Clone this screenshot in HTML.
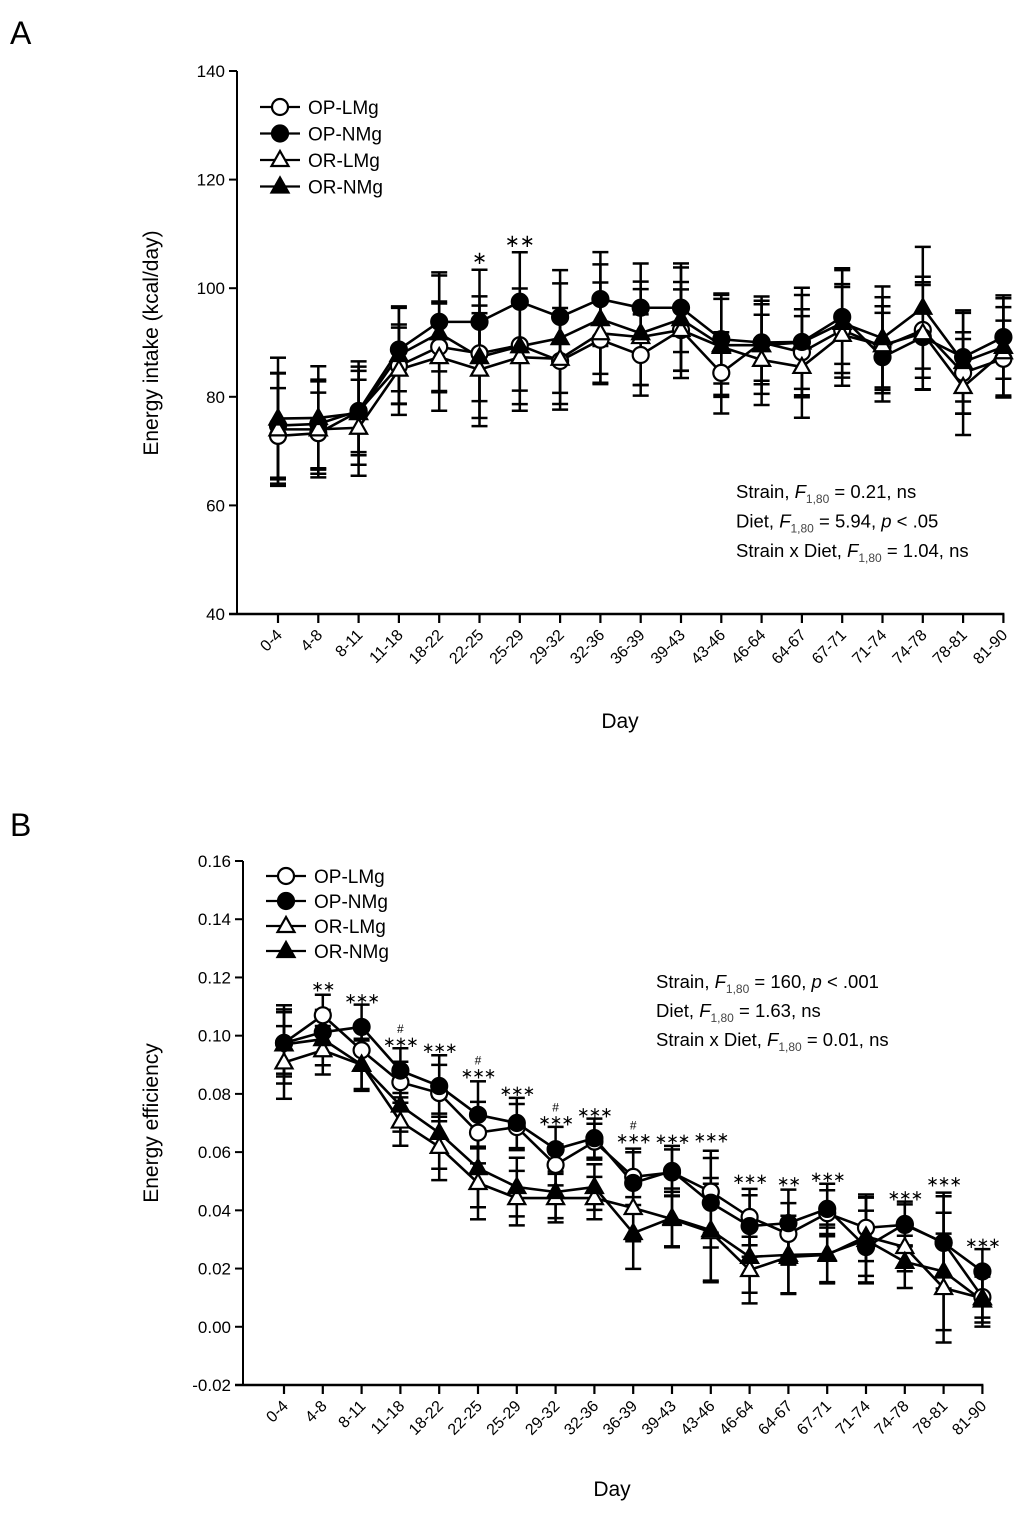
<!DOCTYPE html>
<html><head><meta charset="utf-8">
<style>
html,body{margin:0;padding:0;background:#fff;}
svg{display:block;font-family:"Liberation Sans",Arial,sans-serif;}
</style></head>
<body>
<svg id="fig" width="1024" height="1513" viewBox="0 0 1024 1513" xmlns="http://www.w3.org/2000/svg">
<text x="10" y="44" font-size="32">A</text>
<text x="10" y="836" font-size="32">B</text>
<g id="pa"></g>
<g id="pb"></g>
</svg>
<script>
const categories=["0-4","4-8","8-11","11-18","18-22","22-25","25-29","29-32","32-36","36-39","39-43","43-46","46-64","64-67","67-71","71-74","74-78","78-81","81-90"];
const seriesNames=["OP-LMg","OP-NMg","OR-LMg","OR-NMg"];
// Panel A: energy intake (kcal/day)
const aOPL=[72.8,73.3,77.3,85.7,89.2,88,89.5,86.6,90.5,87.7,92.3,84.4,90,88.2,92.3,89.2,92.3,84.4,87];
const aOPN=[74.7,75,77.4,88.7,93.8,93.8,97.5,94.7,98,96.4,96.4,90.6,90,90.1,94.7,87.3,91,87.3,91];
const aORL=[74,74,74.3,85,87.3,85,87.3,87,91.7,91,92.3,89.2,86.8,85.5,91.4,89.5,91.7,81.8,88.2];
const aORN=[76,76.1,77,87.7,91.7,87.3,89.3,90.8,94.3,91.7,94.3,89.5,89.5,90,93.6,90.8,96.4,86.4,89.2];
const aErr=[10,8.5,8.5,8,9.5,10,9.5,9,9,8.5,8.5,8.5,8,9,9,8.5,10,8.5,8];
const aTicks=[40,60,80,100,120,140];
const aStars=["","","","","","*","**","","","","","","","","","","","",""];
// Panel B: energy efficiency
const bOPL=[0.0975,0.107,0.095,0.084,0.0803,0.0667,0.0686,0.0556,0.0636,0.0515,0.053,0.0464,0.0377,0.0319,0.039,0.034,0.035,0.029,0.0102];
const bOPN=[0.0975,0.1012,0.103,0.088,0.0827,0.0728,0.070,0.061,0.0648,0.0494,0.0535,0.0426,0.0346,0.0356,0.0405,0.0274,0.0353,0.0288,0.019];
const bORL=[0.0908,0.095,0.090,0.0705,0.0618,0.0494,0.0442,0.0442,0.0442,0.0408,0.037,0.0325,0.0195,0.024,0.0247,0.031,0.0274,0.0133,0.0098];
const bORN=[0.097,0.0988,0.090,0.076,0.0666,0.0545,0.048,0.0463,0.048,0.0322,0.0374,0.0332,0.024,0.0247,0.025,0.0298,0.0223,0.019,0.009];
const bErr=[0.012,0.008,0.008,0.008,0.011,0.012,0.009,0.008,0.007,0.011,0.009,0.016,0.011,0.012,0.009,0.013,0.008,0.018,0.008];
const bTicks=[-0.02,0,0.02,0.04,0.06,0.08,0.10,0.12,0.14,0.16];
const bStars=["","**","***","***","***","***","***","***","***","***","***","***","***","**","***","","***","***","***"];
const bHash=["","","","#","","#","","#","","#","","","","","","","","",""];

const NS="http://www.w3.org/2000/svg";
function el(parent,tag,attrs,txt){const e=document.createElementNS(NS,tag);for(const k in attrs)e.setAttribute(k,attrs[k]);if(txt!==undefined)e.textContent=txt;parent.appendChild(e);return e;}

function drawPanel(g,cfg){
  const {x0,dx,axisX,yTop,yBot,vMin,vMax,series,err,ticks,fmt}=cfg;
  const X=i=>x0+i*dx;
  const Y=v=>yBot-(v-vMin)/(vMax-vMin)*(yBot-yTop);
  const xEnd=X(categories.length-1);
  const ya=el(g,'line',{x1:axisX,y1:yTop,x2:axisX,y2:Y(vMin),stroke:'#000','stroke-width':2});
  
  
  const xa=el(g,'line',{x1:axisX-8,y1:Y(vMin),x2:xEnd+1,y2:Y(vMin),stroke:'#000','stroke-width':2.5});
  
  
  ticks.forEach(t=>{
    el(g,'line',{x1:axisX-8,y1:Y(t),x2:axisX,y2:Y(t),stroke:'#000','stroke-width':2});
    const tl=el(g,'text',{x:axisX-12,y:Y(t)+6,'font-size':17,'text-anchor':'end'},fmt(t));
    
    
  });
  categories.forEach((c,i)=>{
    el(g,'line',{x1:X(i),y1:Y(vMin),x2:X(i),y2:Y(vMin)+9,stroke:'#000','stroke-width':2.2});
    const tx=X(i)+5, ty=Y(vMin)+22;
    const tl=el(g,'text',{x:tx,y:ty,'font-size':16,'text-anchor':'end',transform:`rotate(-45 ${tx} ${ty})`},c);
    
    
  });
  series.forEach((s,si)=>{
    s.vals.forEach((v,i)=>{
      const e=err[i]*(1+0.08*(si-1.5));
      const x=X(i);
      el(g,'line',{x1:x,y1:Y(v-e),x2:x,y2:Y(v+e),stroke:'#000','stroke-width':2.5});
      el(g,'line',{x1:x-8,y1:Y(v+e),x2:x+8,y2:Y(v+e),stroke:'#000','stroke-width':2.5});
      el(g,'line',{x1:x-8,y1:Y(v-e),x2:x+8,y2:Y(v-e),stroke:'#000','stroke-width':2.5});
    });
  });
  series.forEach(s=>{
    const pts=s.vals.map((v,i)=>X(i)+','+Y(v)).join(' ');
    const pl=el(g,'polyline',{points:pts,fill:'none',stroke:'#000','stroke-width':2.6});
    
    
  });
  series.forEach(s=>{
    s.vals.forEach((v,i)=>{
      const m=marker(g,s.shape,s.fill,X(i),Y(v));
      
      
    });
  });
  return {X,Y};
}
function marker(g,shape,fill,x,y){
  if(shape==='c') return el(g,'circle',{cx:x,cy:y,r:8,fill:fill?'#000':'#fff',stroke:'#000','stroke-width':2.2});
  return el(g,'polygon',{points:`${x},${y-9} ${x-8.5},${y+6} ${x+8.5},${y+6}`,fill:fill?'#000':'#fff',stroke:'#000','stroke-width':2.2});
}
function legend(g,x,y,dy,fs){
  const shapes=[['c',0],['c',1],['t',0],['t',1]];
  seriesNames.forEach((n,i)=>{
    const yy=y+i*dy;
    el(g,'line',{x1:x,y1:yy,x2:x+40,y2:yy,stroke:'#000','stroke-width':2.2});
    marker(g,shapes[i][0],shapes[i][1],x+20,yy);
    const t=el(g,'text',{x:x+48,y:yy+7,'font-size':fs},n);
    
    
  });
}
function mkSeries(a,b,c,d){return [
  {name:seriesNames[0],vals:a,shape:'c',fill:0},
  {name:seriesNames[1],vals:b,shape:'c',fill:1},
  {name:seriesNames[2],vals:c,shape:'t',fill:0},
  {name:seriesNames[3],vals:d,shape:'t',fill:1}];}

const ga=document.getElementById('pa');
const A=drawPanel(ga,{x0:278,dx:40.3,axisX:237,yTop:71,yBot:614,vMin:40,vMax:140,
  series:mkSeries(aOPL,aOPN,aORL,aORN),err:aErr,ticks:aTicks,fmt:t=>String(t)});
aStars.forEach((s,i)=>{ if(s){const mx=Math.max(aOPL[i],aOPN[i],aORL[i],aORN[i]);
  const t=el(ga,'text',{x:A.X(i),y:A.Y(mx+aErr[i]*1.1)+2,'font-size':18,'text-anchor':'middle'},s.replace(/\*/g,'\u2217'));
  
  }});
legend(ga,260,107,26.5,19);
let t1=el(ga,'text',{x:158,y:343,'font-size':21,'text-anchor':'middle',transform:'rotate(-90 158 343)'},'Energy intake (kcal/day)');


let t2=el(ga,'text',{x:620,y:728,'font-size':21,'text-anchor':'middle'},'Day');


function stats(g,x,y,dy,lines){
  lines.forEach((ln,i)=>{
    const t=el(g,'text',{x:x,y:y+i*dy,'font-size':18.5});
    
    
    t.innerHTML=ln;
  });
}
stats(ga,736,498,29.5,[
 'Strain, <tspan font-style="italic">F</tspan><tspan font-size="12" dy="5" fill="#444">1,80</tspan><tspan dy="-5"> = 0.21, ns</tspan>',
 'Diet, <tspan font-style="italic">F</tspan><tspan font-size="12" dy="5" fill="#444">1,80</tspan><tspan dy="-5"> = 5.94, </tspan><tspan font-style="italic">p</tspan> &lt; .05',
 'Strain x Diet, <tspan font-style="italic">F</tspan><tspan font-size="12" dy="5" fill="#444">1,80</tspan><tspan dy="-5"> = 1.04, ns</tspan>']);

const gb=document.getElementById('pb');
const B=drawPanel(gb,{x0:284,dx:38.8,axisX:243,yTop:861,yBot:1385,vMin:-0.02,vMax:0.16,
  series:mkSeries(bOPL,bOPN,bORL,bORN),err:bErr,ticks:bTicks,fmt:t=>t.toFixed(2)});
bStars.forEach((s,i)=>{ if(s){const mx=Math.max(bOPL[i],bOPN[i],bORL[i],bORN[i]);
  const yy=B.Y(mx+bErr[i]*1.1)-3;
  const t=el(gb,'text',{x:B.X(i),y:yy+5,'font-size':15,'text-anchor':'middle','letter-spacing':-1},s.replace(/\*/g,'\u2217'));
  
  
  if(bHash[i]){const h=el(gb,'text',{x:B.X(i),y:yy-9,'font-size':12,'text-anchor':'middle'},bHash[i]);
    
    }
}});
legend(gb,266,876,25,19);
let t3=el(gb,'text',{x:158,y:1123,'font-size':21,'text-anchor':'middle',transform:'rotate(-90 158 1123)'},'Energy efficiency');


let t4=el(gb,'text',{x:612,y:1496,'font-size':21,'text-anchor':'middle'},'Day');


stats(gb,656,988,29,[
 'Strain, <tspan font-style="italic">F</tspan><tspan font-size="12" dy="5" fill="#444">1,80</tspan><tspan dy="-5"> = 160, </tspan><tspan font-style="italic">p</tspan> &lt; .001',
 'Diet, <tspan font-style="italic">F</tspan><tspan font-size="12" dy="5" fill="#444">1,80</tspan><tspan dy="-5"> = 1.63, ns</tspan>',
 'Strain x Diet, <tspan font-style="italic">F</tspan><tspan font-size="12" dy="5" fill="#444">1,80</tspan><tspan dy="-5"> = 0.01, ns</tspan>']);
</script>
</body></html>
